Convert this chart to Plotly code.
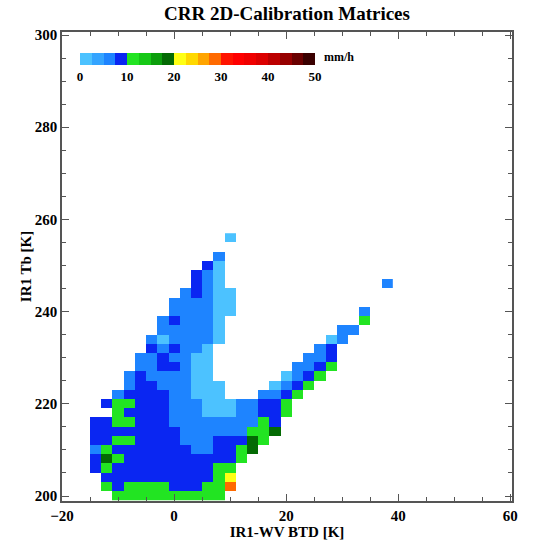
import plotly.graph_objects as go

# ---- data ----
# cell centres (K)
x_centers = [-16, -14, -12, -10, -8, -6, -4, -2, 0, 2, 4, 6, 8, 10, 12, 14,
             16, 18, 20, 22, 24, 26, 28, 30, 32, 34, 36, 38]
y_centers = [256, 254, 252, 250, 248, 246, 244, 242, 240, 238, 236, 234, 232,
             230, 228, 226, 224, 222, 220, 218, 216, 214, 212, 210, 208, 206,
             204, 202, 200]
# one string per row (top row first); one character per x column
# l=light blue, m=mid blue, d=blue, g=green, G=dark green, y=yellow, o=orange
row_codes = [
    ".............l..............",
    "............................",
    "............m...............",
    "...........dl...............",
    "..........dml...............",
    "..........dml..............m",
    ".........mdmll..............",
    "........mmmmll..............",
    "........mmmmll...........m..",
    ".......mdmmml............g..",
    ".......mmmmml..........mm...",
    "......mlmmmml.........lm....",
    "......dmdmml.........md.....",
    ".....mmdmmll........mmd.....",
    ".....mmddmll.......mmdg.....",
    "....mdmmmmll......lmdg......",
    "....mddmmmlll....lmdg.......",
    "...mddddmmlll...mmdg........",
    "..dggdddmmmlllmmddg.........",
    "...gddddmmmlllmmddg.........",
    ".ddggdddmmmmmmmmgd..........",
    ".ddddddddmmmmmmggG..........",
    ".ddggddddmmmdddGg...........",
    ".mgdddddddmmddgG............",
    ".dGgddddddddddg.............",
    ".dgdddddddddgg..............",
    "..ddddddddddgy..............",
    "..gdggggdddggo..............",
    "...gggggggggg...............",
]
# rain rate (mm/h) represented by each colour class
code_values = {"l": 1.5, "m": 5.5, "d": 8.6, "g": 11.2, "G": 18.6,
               "y": 21.0, "o": 28.0}

# discrete colour table of the colour bar (mm/h band edges and colours)
band_edges = [0, 2.5, 5, 7.5, 10, 12.5, 15, 17.5, 20, 22.5, 25, 27.5, 30,
              32.5, 35, 37.5, 40, 42.5, 45, 47.5, 50]
band_colors = ["#4cc2ff", "#34a4ff", "#1e84ff", "#0a26f2",
               "#22e422", "#16c816", "#0c9e0c", "#046a04",
               "#ffff14", "#ffd800", "#ffa400", "#ff6a00",
               "#ff1400", "#ff0000", "#f00000", "#dc0000",
               "#bc0000", "#960000", "#6a0000", "#3a0000"]
cbar_ticks = [0, 10, 20, 30, 40, 50]
cbar_unit = "mm/h"
x_ticks = [-20, 0, 20, 40, 60]
y_ticks = [200, 220, 240, 260, 280, 300]

# ---- build figure ----
z = [[code_values.get(c) for c in row] for row in row_codes]

zmin, zmax = band_edges[0], band_edges[-1]
colorscale = []
for i, col in enumerate(band_colors):
    a = (band_edges[i] - zmin) / (zmax - zmin)
    b = (band_edges[i + 1] - zmin) / (zmax - zmin)
    colorscale.append([a, col])
    colorscale.append([b, col])

serif = "Liberation Serif"

fig = go.Figure()
fig.add_trace(go.Heatmap(
    x=x_centers, y=y_centers, z=z,
    zmin=zmin, zmax=zmax, colorscale=colorscale,
    hoverongaps=False,
    colorbar=dict(
        orientation="h",
        lenmode="pixels", len=235,
        thickness=12, thicknessmode="pixels",
        x=0.04, xanchor="left",
        y=0.9553, yanchor="top",
        xpad=0, ypad=0,
        outlinewidth=0,
        tickmode="array", tickvals=cbar_ticks,
        ticks="", ticklabelposition="outside bottom",
        tickfont=dict(family=serif, size=13, color="black", weight="bold"),
    ),
))

fig.add_annotation(
    text=cbar_unit, xref="paper", yref="paper",
    x=0.578, y=0.946, xanchor="left", yanchor="middle", showarrow=False,
    font=dict(family=serif, size=12, color="black", weight="bold"),
)

axis_common = dict(
    showgrid=False, zeroline=False,
    showline=True, linecolor="#555555", linewidth=1.5, mirror="ticks",
    ticks="inside", ticklen=7, tickcolor="#555555", tickwidth=1,
    tickfont=dict(family=serif, size=15, color="black", weight="bold"),
)

fig.update_layout(
    width=539, height=546,
    margin=dict(l=62, r=27, t=32, b=45),
    paper_bgcolor="white", plot_bgcolor="white",
    title=dict(text="CRR 2D-Calibration Matrices",
               xref="paper", x=0.5, xanchor="center",
               y=0.976, yanchor="middle",
               font=dict(family=serif, size=19, color="black", weight="bold")),
    xaxis=dict(range=[-20, 60.3], tickmode="array", tickvals=x_ticks,
               title=dict(text="IR1-WV BTD [K]", standoff=0,
                          font=dict(family=serif, size=15, color="black", weight="bold")),
               minor=dict(ticks="inside", ticklen=4, dtick=5, tickcolor="#555555"),
               **axis_common),
    yaxis=dict(range=[198.92, 300.65], tickmode="array", tickvals=y_ticks,
               title=dict(text="IR1 Tb [K]", standoff=0,
                          font=dict(family=serif, size=15, color="black", weight="bold")),
               minor=dict(ticks="inside", ticklen=4, dtick=5, tickcolor="#555555"),
               **axis_common),
)

fig.write_html("out.html", config={"displayModeBar": False},
               post_script="document.body.style.margin='0';")
